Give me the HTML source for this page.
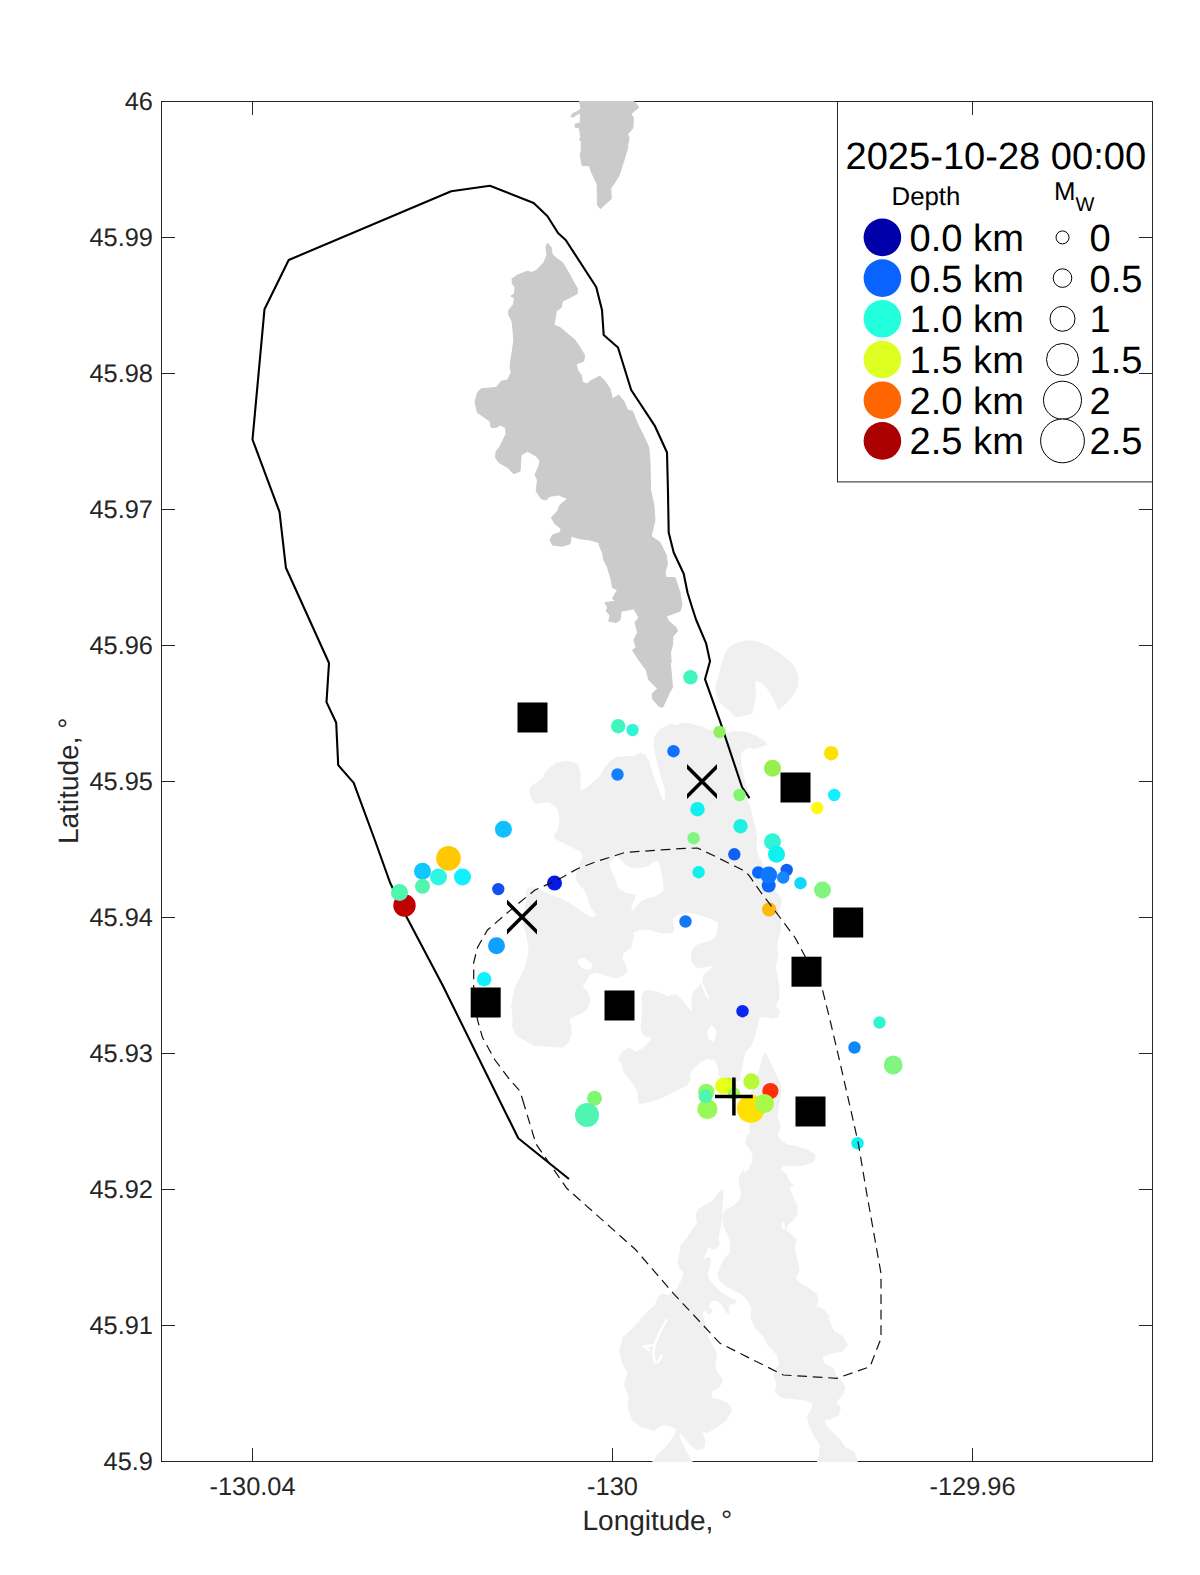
<!DOCTYPE html>
<html lang="en"><head><meta charset="utf-8"><title>Seismicity map</title>
<style>
html,body{margin:0;padding:0;background:#fff;}
body{width:1200px;height:1575px;overflow:hidden;}
svg{display:block;}
text{font-family:"Liberation Sans",Arial,Helvetica,sans-serif;text-rendering:geometricPrecision;}
.tk{font-size:25.4px;fill:#262626;}
.lb{font-size:28px;fill:#262626;}
.lg{font-size:38.1px;fill:#000;}
.sm{font-size:25.8px;fill:#000;}
</style></head><body>
<svg width="1200" height="1575" viewBox="0 0 1200 1575">
<rect x="0" y="0" width="1200" height="1575" fill="#fff"/>
<defs><clipPath id="ax"><rect x="161.0" y="101.0" width="992.0" height="1361.0"/></clipPath></defs>

<rect x="837.5" y="101.5" width="315.0" height="380.4" fill="#fff" stroke="#262626" stroke-width="1"/>
<text class="lg" x="845.5" y="168.7">2025-10-28 00:00</text>
<text class="sm" x="891.5" y="204.6">Depth</text>
<text class="sm" x="1054" y="199.8">M<tspan font-size="20" dy="11.5">W</tspan></text>
<circle cx="882.4" cy="237.4" r="18.8" fill="#0000aa"/>
<text class="lg" x="909.6" y="250.8">0.0 km</text>
<circle cx="1062.5" cy="237.4" r="6.5" fill="#fff" stroke="#000" stroke-width="1"/>
<text class="lg" x="1089.5" y="250.8">0</text>
<circle cx="882.4" cy="278.1" r="18.8" fill="#0964ff"/>
<text class="lg" x="909.6" y="291.5">0.5 km</text>
<circle cx="1062.5" cy="278.1" r="9.3" fill="#fff" stroke="#000" stroke-width="1"/>
<text class="lg" x="1089.5" y="291.5">0.5</text>
<circle cx="882.4" cy="318.8" r="18.8" fill="#22ffdd"/>
<text class="lg" x="909.6" y="332.2">1.0 km</text>
<circle cx="1062.5" cy="318.8" r="12.5" fill="#fff" stroke="#000" stroke-width="1"/>
<text class="lg" x="1089.5" y="332.2">1</text>
<circle cx="882.4" cy="359.5" r="18.8" fill="#ddff22"/>
<text class="lg" x="909.6" y="372.9">1.5 km</text>
<circle cx="1062.5" cy="359.5" r="16" fill="#fff" stroke="#000" stroke-width="1"/>
<text class="lg" x="1089.5" y="372.9">1.5</text>
<circle cx="882.4" cy="400.2" r="18.8" fill="#ff6500"/>
<text class="lg" x="909.6" y="413.6">2.0 km</text>
<circle cx="1062.5" cy="400.2" r="19" fill="#fff" stroke="#000" stroke-width="1"/>
<text class="lg" x="1089.5" y="413.6">2</text>
<circle cx="882.4" cy="440.9" r="18.8" fill="#aa0000"/>
<text class="lg" x="909.6" y="454.3">2.5 km</text>
<circle cx="1062.5" cy="440.9" r="21.9" fill="#fff" stroke="#000" stroke-width="1"/>
<text class="lg" x="1089.5" y="454.3">2.5</text>
<text class="tk" text-anchor="end" x="153.0" y="110.3">46</text>
<text class="tk" text-anchor="end" x="153.0" y="246.3">45.99</text>
<text class="tk" text-anchor="end" x="153.0" y="382.3">45.98</text>
<text class="tk" text-anchor="end" x="153.0" y="518.3">45.97</text>
<text class="tk" text-anchor="end" x="153.0" y="654.3">45.96</text>
<text class="tk" text-anchor="end" x="153.0" y="790.3">45.95</text>
<text class="tk" text-anchor="end" x="153.0" y="926.3">45.94</text>
<text class="tk" text-anchor="end" x="153.0" y="1062.3">45.93</text>
<text class="tk" text-anchor="end" x="153.0" y="1198.3">45.92</text>
<text class="tk" text-anchor="end" x="153.0" y="1334.3">45.91</text>
<text class="tk" text-anchor="end" x="153.0" y="1470.3">45.9</text>
<text class="tk" text-anchor="middle" x="252.5" y="1495">-130.04</text>
<text class="tk" text-anchor="middle" x="612.5" y="1495">-130</text>
<text class="tk" text-anchor="middle" x="972.5" y="1495">-129.96</text>
<path d="M161.5,237.5 h13.5 M1152.5,237.5 h-13.5 M161.5,373.5 h13.5 M1152.5,373.5 h-13.5 M161.5,509.5 h13.5 M1152.5,509.5 h-13.5 M161.5,645.5 h13.5 M1152.5,645.5 h-13.5 M161.5,781.5 h13.5 M1152.5,781.5 h-13.5 M161.5,917.5 h13.5 M1152.5,917.5 h-13.5 M161.5,1053.5 h13.5 M1152.5,1053.5 h-13.5 M161.5,1189.5 h13.5 M1152.5,1189.5 h-13.5 M161.5,1325.5 h13.5 M1152.5,1325.5 h-13.5 M252.5,1461.5 v-13.5 M252.5,101.5 v13.5 M612.5,1461.5 v-13.5 M612.5,101.5 v13.5 M972.5,1461.5 v-13.5 M972.5,101.5 v13.5" stroke="#262626" stroke-width="1" fill="none"/>
<text class="lb" text-anchor="middle" x="657.4" y="1529.7">Longitude, °</text>
<text class="lb" text-anchor="middle" transform="translate(78.2,780.8) rotate(-90)">Latitude, °</text>
<rect x="161.5" y="101.5" width="991.0" height="1360.0" fill="none" stroke="#262626" stroke-width="1"/>
<g clip-path="url(#ax)">
<path d="M733.3,645.0 L740.0,642.5 L748.3,640.8 L756.7,641.7 L766.7,645.8 L776.7,651.7 L786.7,659.2 L794.2,666.7 L797.5,675.0 L798.0,685.0 L795.0,691.7 L790.0,698.3 L783.3,705.0 L778.3,709.2 L775.8,703.3 L772.5,695.8 L767.5,688.3 L761.7,682.5 L756.7,680.0 L754.2,682.5 L755.3,690.0 L755.0,698.3 L753.3,706.7 L751.7,713.3 L745.0,715.0 L738.3,716.7 L734.2,715.8 L730.8,710.8 L725.0,706.7 L720.0,701.7 L716.7,695.0 L715.8,686.7 L718.3,678.3 L720.8,670.0 L722.5,661.7 L725.8,653.3 L729.2,648.3 Z" fill="#f0f0f0" stroke="#f0f0f0" stroke-width="1.2" stroke-linejoin="round"/>
<path d="M530.0,790.0 L531.7,786.7 L536.7,783.3 L543.3,778.3 L545.8,772.5 L550.8,767.5 L556.7,763.3 L565.0,761.7 L573.3,762.5 L578.3,765.8 L580.0,773.3 L580.0,783.3 L580.0,790.8 L585.0,789.2 L591.7,784.2 L600.0,776.7 L605.0,768.3 L610.0,761.7 L616.7,757.5 L626.7,756.7 L634.2,756.7 L640.0,753.3 L645.0,755.0 L648.3,761.7 L651.7,771.7 L655.0,781.7 L658.3,790.0 L661.7,798.3 L665.0,803.3 L665.8,795.0 L665.0,786.7 L661.7,778.3 L659.2,768.3 L656.7,758.3 L655.0,750.0 L654.2,745.0 L655.0,736.7 L660.0,730.0 L670.0,724.2 L676.7,725.8 L683.3,723.3 L691.7,724.2 L700.0,726.7 L708.3,730.0 L715.0,731.7 L725.0,733.3 L736.7,731.7 L746.7,732.5 L755.0,735.8 L765.0,741.7 L766.7,744.2 L760.0,746.7 L753.3,748.3 L748.3,747.5 L743.3,750.0 L740.0,755.0 L740.8,763.3 L742.5,773.3 L745.0,783.3 L748.3,793.3 L746.7,800.0 L750.0,808.3 L752.5,818.3 L755.0,828.3 L756.7,838.3 L755.8,848.3 L758.3,856.7 L761.7,863.3 L773.3,890.0 L778.3,895.0 L781.7,900.0 L780.0,906.7 L778.3,913.3 L780.0,920.0 L780.8,928.3 L778.3,936.7 L776.7,945.0 L777.5,953.3 L776.7,960.0 L775.0,966.7 L776.7,975.0 L778.3,983.3 L779.2,991.7 L778.3,1000.0 L777.5,1000.0 L775.0,1006.7 L779.2,1010.8 L778.3,1016.7 L773.3,1018.3 L766.7,1016.7 L760.0,1016.7 L757.5,1023.3 L755.8,1031.7 L753.3,1040.0 L750.0,1046.7 L745.0,1051.7 L743.3,1058.3 L741.7,1066.7 L740.0,1073.3 L740.0,1080.0 L725.0,1085.0 L719.2,1075.0 L718.3,1066.7 L715.0,1060.0 L708.3,1058.3 L700.0,1061.7 L693.3,1068.3 L689.2,1075.0 L690.0,1080.0 L686.7,1085.0 L678.3,1089.2 L670.0,1093.3 L660.0,1098.3 L650.0,1101.7 L640.0,1103.3 L636.7,1100.8 L565.0,1046.7 L555.0,1046.7 L543.3,1045.8 L533.3,1045.0 L525.0,1040.0 L516.7,1035.0 L512.5,1026.7 L513.3,1016.7 L511.7,1006.7 L513.3,996.7 L515.8,986.7 L520.0,978.3 L525.0,968.3 L527.5,960.0 L529.2,950.0 L527.5,938.3 L525.0,928.3 L522.5,918.3 L525.0,910.0 L526.7,900.0 L526.7,890.0 L531.7,886.7 L575.8,871.7 L578.3,866.7 L581.7,860.0 L583.3,855.0 L580.0,850.8 L575.0,848.3 L566.7,844.2 L558.3,840.0 L554.2,837.5 L555.8,834.2 L559.2,828.3 L560.0,820.0 L559.2,811.7 L555.0,805.0 L548.3,801.7 L540.0,802.5 L535.0,803.3 L530.8,796.7 Z" fill="#f0f0f0" stroke="#f0f0f0" stroke-width="1.2" stroke-linejoin="round"/>
<path d="M765.0,1053.3 L762.5,1058.3 L760.8,1066.7 L758.3,1073.3 L756.7,1080.0 L753.3,1088.3 L750.0,1096.7 L750.0,1126.7 L750.8,1133.3 L746.7,1136.7 L745.8,1143.3 L750.0,1148.3 L753.3,1155.0 L752.5,1163.3 L748.3,1170.0 L743.3,1175.0 L744.0,1170.0 L740.0,1176.0 L739.0,1184.0 L742.0,1192.0 L740.0,1200.0 L734.0,1206.0 L726.0,1210.0 L723.0,1216.0 L724.0,1226.0 L728.0,1234.0 L731.0,1244.0 L730.0,1254.0 L725.0,1258.0 L721.0,1266.0 L718.0,1274.0 L720.0,1280.0 L726.0,1286.0 L734.0,1290.0 L742.0,1294.0 L748.0,1300.0 L752.0,1308.0 L751.0,1318.0 L754.0,1310.0 L751.7,1319.3 L756.3,1328.7 L763.3,1335.7 L768.0,1345.0 L777.3,1354.3 L779.7,1363.7 L773.8,1375.3 L777.3,1384.7 L775.0,1391.7 L782.0,1397.5 L793.7,1398.7 L805.3,1399.8 L813.5,1403.3 L811.2,1410.3 L807.7,1417.3 L810.0,1426.7 L814.7,1436.0 L820.5,1445.3 L819.3,1454.7 L817.0,1464.0 L857.8,1464.0 L854.3,1452.3 L845.0,1447.7 L840.3,1440.7 L833.3,1433.7 L826.3,1426.7 L824.0,1419.7 L831.0,1418.5 L838.0,1415.0 L840.3,1408.0 L835.7,1402.2 L842.7,1394.0 L845.0,1387.0 L840.3,1380.0 L835.7,1375.3 L833.3,1368.3 L824.0,1363.7 L821.7,1356.7 L831.0,1353.2 L842.7,1350.8 L847.3,1345.0 L842.7,1336.8 L833.3,1331.0 L829.8,1321.7 L824.0,1314.7 L817.0,1310.0 L830.0,1318.0 L824.0,1310.0 L816.0,1306.0 L818.0,1300.0 L816.0,1294.0 L808.0,1288.0 L800.0,1284.0 L795.0,1278.0 L799.0,1270.0 L797.0,1260.0 L794.0,1250.0 L796.0,1240.0 L790.0,1234.0 L785.0,1230.0 L788.0,1224.0 L793.0,1220.0 L797.0,1214.0 L797.0,1206.0 L792.0,1196.0 L789.0,1188.0 L793.0,1185.0 L789.0,1182.0 L786.0,1174.0 L780.0,1170.0 L781.7,1171.7 L780.0,1170.0 L783.3,1165.0 L793.3,1165.8 L803.3,1165.0 L813.3,1161.7 L815.0,1155.0 L806.7,1150.0 L796.7,1146.7 L786.7,1145.0 L780.0,1140.0 L776.7,1135.0 L779.2,1130.0 L780.0,1125.0 L776.7,1116.7 L778.3,1106.7 L780.0,1096.7 L780.8,1086.7 L778.3,1080.0 L775.0,1073.3 L771.7,1066.7 L768.3,1058.3 Z" fill="#f0f0f0" stroke="#f0f0f0" stroke-width="1.2" stroke-linejoin="round"/>
<path d="M722.0,1190.0 L717.0,1195.0 L712.0,1202.0 L704.0,1206.0 L698.0,1210.0 L696.0,1216.0 L698.0,1222.0 L694.0,1228.0 L690.0,1234.0 L686.0,1240.0 L681.0,1246.0 L680.0,1254.0 L678.0,1262.0 L680.0,1268.0 L684.0,1272.0 L682.0,1280.0 L678.0,1288.0 L674.0,1292.0 L668.0,1296.0 L662.0,1294.0 L658.0,1298.0 L655.0,1306.0 L650.0,1310.0 L640.0,1320.0 L651.3,1310.0 L642.0,1319.3 L632.7,1328.7 L623.3,1338.0 L619.8,1349.7 L622.2,1361.3 L628.0,1373.0 L624.5,1384.7 L629.2,1396.3 L628.0,1408.0 L632.7,1419.7 L642.0,1426.7 L653.7,1430.2 L663.0,1424.3 L670.0,1425.5 L677.0,1429.0 L674.7,1436.0 L667.7,1445.3 L658.3,1454.7 L651.3,1464.0 L693.3,1464.0 L686.3,1452.3 L680.5,1440.7 L678.2,1431.3 L681.7,1433.7 L691.0,1445.3 L698.0,1450.0 L703.8,1447.7 L705.0,1440.7 L701.5,1431.3 L707.3,1432.5 L716.7,1426.7 L726.0,1419.7 L731.8,1410.3 L727.2,1403.3 L719.0,1399.8 L712.0,1398.7 L710.8,1391.7 L719.0,1387.0 L722.5,1380.0 L716.7,1373.0 L714.3,1363.7 L716.7,1354.3 L712.0,1345.0 L707.3,1335.7 L705.0,1326.3 L702.7,1317.0 L700.3,1310.0 L698.0,1324.0 L701.0,1316.0 L704.0,1310.0 L710.0,1314.0 L712.0,1310.0 L708.0,1307.0 L711.0,1301.0 L717.0,1300.0 L722.0,1304.0 L725.0,1310.0 L729.0,1314.0 L728.0,1308.0 L730.0,1303.0 L734.0,1304.0 L736.0,1301.0 L728.0,1297.0 L720.0,1292.0 L714.0,1286.0 L709.0,1280.0 L707.0,1274.0 L709.6,1266.0 L710.0,1258.0 L707.0,1258.0 L702.4,1262.0 L703.0,1258.0 L706.0,1252.0 L707.6,1246.0 L710.0,1248.0 L715.0,1249.0 L719.0,1245.0 L718.0,1238.0 L719.6,1230.0 L721.6,1220.0 L722.0,1206.0 L723.0,1192.0 Z" fill="#f0f0f0" stroke="#f0f0f0" stroke-width="1.2" stroke-linejoin="round"/>
<path d="M610.0,863.3 L616.7,856.7 L620.0,860.0 L625.0,865.0 L631.7,868.3 L641.7,868.3 L648.3,866.7 L653.3,862.5 L657.5,861.7 L660.0,868.3 L661.7,876.7 L662.5,883.3 L663.3,890.0 L660.0,893.3 L655.0,895.8 L648.3,897.5 L641.7,900.0 L636.7,905.0 L633.3,910.0 L631.7,906.7 L635.0,900.0 L636.7,895.0 L633.3,893.3 L626.7,892.5 L621.7,890.0 L618.3,886.7 L616.7,881.7 L613.3,873.3 L610.8,868.3 Z" fill="#fff" stroke="#fff" stroke-width="1.2" stroke-linejoin="round"/>
<path d="M575.8,871.7 L575.0,878.3 L578.3,885.0 L583.3,890.0 L586.7,896.7 L588.3,903.3 L591.7,910.0 L595.8,915.0 L591.7,916.7 L585.0,913.3 L576.7,906.7 L568.3,901.7 L560.0,897.5 L551.7,894.2 L543.3,890.8 L536.7,888.3 L531.7,886.7 L528.3,883.3 L551.7,870.0 Z" fill="#fff" stroke="#fff" stroke-width="1.2" stroke-linejoin="round"/>
<path d="M633.3,933.3 L641.7,930.0 L651.7,930.8 L661.7,934.2 L670.0,934.2 L675.0,931.7 L674.2,925.0 L673.3,919.2 L678.3,915.0 L688.3,913.3 L700.0,915.8 L710.0,919.2 L717.5,923.3 L716.7,930.0 L715.0,936.7 L710.0,940.0 L703.3,941.7 L696.7,944.2 L692.5,948.3 L690.0,955.0 L690.8,961.7 L694.2,966.7 L700.0,969.2 L706.7,967.5 L711.7,966.7 L708.3,970.0 L703.3,974.2 L700.8,980.0 L698.3,986.7 L693.3,990.0 L690.8,996.7 L690.8,1003.3 L691.7,1010.0 L688.3,1006.7 L683.3,1000.0 L678.3,995.0 L671.7,993.3 L668.3,995.8 L663.3,993.3 L656.7,990.8 L648.3,989.2 L643.3,990.8 L640.8,996.7 L641.7,1006.7 L640.8,1016.7 L640.0,1026.7 L641.7,1035.0 L646.7,1038.3 L650.0,1036.7 L650.8,1039.2 L646.7,1043.3 L641.7,1048.3 L635.8,1050.8 L629.2,1046.7 L623.3,1050.0 L618.3,1056.7 L617.5,1060.0 L621.7,1065.0 L622.5,1071.7 L626.7,1076.7 L631.7,1083.3 L636.7,1091.7 L637.5,1100.0 L640.0,1112.0 L555.0,1112.0 L565.0,1046.7 L570.0,1041.7 L572.5,1033.3 L571.7,1025.0 L570.0,1020.0 L575.0,1016.7 L583.3,1013.3 L588.3,1008.3 L590.8,1000.0 L588.3,991.7 L583.3,986.7 L586.7,981.7 L590.8,975.0 L596.7,973.3 L606.7,976.7 L616.7,979.2 L625.0,975.0 L627.5,971.7 L626.7,965.0 L623.3,958.3 L624.2,953.3 L631.7,948.3 L633.3,941.7 L635.0,935.0 Z" fill="#fff" stroke="#fff" stroke-width="1.2" stroke-linejoin="round"/>
<path d="M578.3,960.0 L583.3,958.3 L588.3,961.7 L591.7,964.2 L590.8,968.3 L586.7,969.2 L582.5,967.5 L579.2,964.2 Z" fill="#fff" stroke="#fff" stroke-width="1.2" stroke-linejoin="round"/>
<path d="M710.8,1025.8 L715.0,1029.2 L715.8,1035.0 L713.3,1041.7 L709.2,1038.3 L707.5,1032.5 Z" fill="#fff" stroke="#fff" stroke-width="1.2" stroke-linejoin="round"/>
<path d="M702.0,978.3 L700.8,981.7 L703.3,987.5 L708.3,998.0" fill="none" stroke="#fff" stroke-width="2.0" stroke-linecap="round" stroke-linejoin="round"/>
<path d="M666.5,1319.8 L659.5,1333.3 L654.8,1343.8 L653.2,1353.2 L654.8,1362.5 L658.3,1361.8 L661.8,1355.5" fill="none" stroke="#fff" stroke-width="2.4" stroke-linecap="round" stroke-linejoin="round"/>
<path d="M654.8,1345.0 L643.2,1346.2 L649.0,1350.1" fill="none" stroke="#fff" stroke-width="2.4" stroke-linecap="round" stroke-linejoin="round"/>
<path d="M783.0,1224.0 L783.6,1228.0" fill="none" stroke="#fff" stroke-width="3" stroke-linecap="round" stroke-linejoin="round"/>
<path d="M578.8,99.6 L580.4,105.0 L580.8,108.8 L577.9,111.2 L572.5,113.8 L570.8,116.7 L573.3,117.1 L576.7,114.6 L580.4,112.9 L580.4,119.2 L580.0,123.3 L575.4,123.8 L575.0,127.1 L579.2,127.9 L580.0,131.7 L580.8,138.3 L579.2,139.2 L581.2,141.7 L581.2,151.7 L580.4,153.3 L580.8,158.3 L582.1,165.4 L589.6,165.8 L590.8,170.8 L597.1,184.2 L597.5,205.0 L600.4,208.8 L611.2,198.8 L610.8,188.3 L618.8,176.2 L623.3,162.5 L627.5,148.3 L627.9,144.2 L629.2,137.9 L627.5,134.2 L632.9,128.3 L633.3,117.5 L630.8,113.8 L638.8,107.5 L637.1,104.6 L631.7,99.6 Z" fill="#cbcbcb" stroke="#cbcbcb" stroke-width="1" stroke-linejoin="round"/>
<path d="M547.5,243.0 L551.2,247.5 L552.0,253.8 L556.2,258.0 L562.5,262.5 L570.0,275.0 L573.8,282.5 L577.5,288.8 L577.0,293.8 L570.0,297.5 L562.5,301.2 L561.2,307.5 L556.2,311.2 L555.5,317.5 L553.8,325.0 L560.0,327.5 L567.5,333.8 L575.0,340.0 L580.0,347.5 L584.5,355.0 L583.8,361.2 L576.2,363.8 L577.5,370.0 L581.2,375.0 L582.5,382.5 L587.5,383.8 L590.0,381.2 L600.0,376.2 L605.0,381.2 L610.0,388.8 L612.5,398.8 L618.8,395.0 L623.8,401.2 L627.5,410.0 L632.5,411.2 L637.5,423.8 L643.8,436.2 L648.8,447.5 L650.0,462.5 L650.5,490.0 L653.8,505.0 L655.0,520.0 L651.2,536.2 L660.0,542.5 L666.2,555.0 L667.5,563.8 L665.0,572.5 L666.2,577.5 L675.0,577.5 L680.0,592.5 L682.0,605.0 L680.0,611.2 L666.2,616.2 L668.8,621.2 L676.2,627.5 L677.5,631.2 L673.0,636.2 L672.5,645.0 L670.5,652.5 L671.2,662.5 L670.0,660.0 L671.2,672.5 L672.5,687.5 L668.8,693.8 L666.2,700.0 L662.5,707.5 L658.8,706.2 L652.5,698.8 L652.0,693.8 L657.5,688.8 L648.8,680.0 L646.2,670.0 L638.8,660.0 L632.5,650.0 L636.2,647.5 L633.8,640.0 L637.5,632.5 L635.0,622.5 L638.8,617.5 L633.8,608.8 L621.2,611.2 L620.0,620.0 L616.2,622.5 L608.8,621.2 L610.0,615.0 L606.2,611.2 L607.5,607.5 L605.0,602.5 L616.2,601.2 L612.5,598.8 L615.0,593.8 L617.5,590.0 L612.5,587.5 L611.2,580.0 L607.5,567.5 L603.8,560.0 L602.5,552.5 L600.0,547.5 L598.8,542.5 L590.0,540.0 L580.0,538.8 L571.2,536.2 L570.0,543.8 L562.5,546.2 L552.5,545.0 L550.0,540.0 L552.5,535.0 L560.0,532.5 L561.2,528.8 L555.0,523.8 L551.2,517.5 L557.5,511.2 L560.0,505.0 L567.5,498.8 L558.8,495.0 L550.0,496.2 L546.2,500.0 L541.2,498.8 L536.2,491.2 L537.5,480.0 L535.0,475.0 L538.8,466.2 L540.0,461.2 L536.2,456.2 L527.5,451.2 L521.2,455.0 L520.0,471.2 L513.8,473.8 L507.5,467.5 L498.8,462.5 L495.5,457.5 L496.2,451.2 L500.0,446.2 L506.2,433.8 L505.5,427.5 L500.0,425.0 L496.2,427.5 L491.2,427.5 L490.0,421.2 L477.5,412.5 L475.0,402.5 L477.5,392.5 L481.2,388.8 L496.2,387.5 L501.2,381.2 L507.5,380.0 L511.2,372.5 L510.0,366.2 L510.8,360.0 L512.5,350.0 L513.8,340.0 L513.0,330.0 L512.0,321.2 L508.8,315.0 L508.8,310.0 L513.2,305.0 L514.5,298.0 L510.8,296.2 L514.5,293.8 L515.0,287.5 L512.5,283.8 L512.0,278.8 L517.5,275.0 L527.5,271.2 L531.2,272.5 L536.2,270.5 L543.8,262.5 L547.0,255.0 L545.8,247.5 Z" fill="#cbcbcb" stroke="#cbcbcb" stroke-width="1" stroke-linejoin="round"/>
<path d="M569.0,1179.0 L518.3,1138.3 L442.5,985.0 L406.2,916.2 L390.0,882.5 L374.8,840.0 L353.7,782.9 L338.2,765.1 L336.2,722.7 L326.5,702.1 L329.0,663.0 L285.9,567.7 L279.5,511.9 L252.5,439.5 L264.5,309.2 L288.7,260.0 L451.2,191.2 L490.0,185.7 L533.7,203.0 L547.5,216.2 L558.0,233.0 L565.7,240.0 L596.2,287.0 L602.0,310.0 L603.7,335.0 L618.0,347.5 L631.2,390.0 L655.0,426.2 L667.0,452.5 L668.0,492.5 L668.7,532.5 L673.7,552.5 L683.7,573.7 L687.5,592.5 L692.5,608.7 L696.2,620.0 L706.2,643.7 L710.0,661.2 L705.0,679.2 L720.0,721.2 L742.0,787.0 L749.5,798.2" fill="none" stroke="#000" stroke-width="2.1" stroke-linejoin="round"/>
<circle cx="690.5" cy="677.3" r="7.2" fill="#40f5c0"/>
<circle cx="618.2" cy="726.2" r="7.2" fill="#40f5c0"/>
<circle cx="632.5" cy="730.0" r="6.2" fill="#30f5d8"/>
<circle cx="719.5" cy="732.0" r="6.2" fill="#90f060"/>
<circle cx="673.5" cy="751.2" r="6.2" fill="#1070ff"/>
<circle cx="617.5" cy="774.5" r="6.2" fill="#1080ff"/>
<circle cx="739.5" cy="795.0" r="6.2" fill="#80f570"/>
<circle cx="697.5" cy="809.2" r="7.2" fill="#10f0f0"/>
<circle cx="740.5" cy="826.2" r="7.2" fill="#20f0e0"/>
<circle cx="693.6" cy="838.2" r="6.2" fill="#80f580"/>
<circle cx="734.3" cy="854.3" r="6.2" fill="#1060f8"/>
<circle cx="698.6" cy="872.2" r="6.2" fill="#10f0f0"/>
<circle cx="503.4" cy="829.2" r="8.5" fill="#10c0ff"/>
<circle cx="448.5" cy="858.2" r="12.3" fill="#ffc800"/>
<circle cx="422.5" cy="871.2" r="8.5" fill="#10c8ff"/>
<circle cx="438.5" cy="877.0" r="8.5" fill="#30f5e0"/>
<circle cx="462.5" cy="877.0" r="8.5" fill="#10f0ff"/>
<circle cx="422.5" cy="886.2" r="7.5" fill="#50f5b0"/>
<circle cx="404.5" cy="905.5" r="11.2" fill="#c00000"/>
<circle cx="399.5" cy="892.5" r="8.5" fill="#50f5b0"/>
<circle cx="498.3" cy="889.1" r="6.2" fill="#1050f0"/>
<circle cx="554.5" cy="883.0" r="7.5" fill="#0818e8"/>
<circle cx="496.5" cy="945.7" r="8.5" fill="#10a0ff"/>
<circle cx="484.2" cy="979.2" r="7.2" fill="#10f0ff"/>
<circle cx="685.5" cy="921.5" r="6.2" fill="#1078f8"/>
<circle cx="772.5" cy="768.2" r="8.5" fill="#98f050"/>
<circle cx="831.2" cy="753.2" r="7.2" fill="#ffe000"/>
<circle cx="834.2" cy="795.0" r="6.2" fill="#10f0ff"/>
<circle cx="817.2" cy="808.0" r="6.2" fill="#fff810"/>
<circle cx="772.5" cy="841.7" r="8.5" fill="#30f5d5"/>
<circle cx="776.5" cy="854.2" r="8.5" fill="#10f0f0"/>
<circle cx="758.2" cy="872.5" r="6.2" fill="#0868ff"/>
<circle cx="768.7" cy="885.5" r="7.0" fill="#0868ff"/>
<circle cx="768.7" cy="875.0" r="8.5" fill="#1078ff"/>
<circle cx="786.7" cy="870.0" r="6.2" fill="#1060f8"/>
<circle cx="783.2" cy="877.5" r="6.2" fill="#1888ff"/>
<circle cx="800.5" cy="883.2" r="6.2" fill="#10d8ff"/>
<circle cx="822.5" cy="890.0" r="8.5" fill="#80f580"/>
<circle cx="769.2" cy="909.5" r="7.2" fill="#ffb810"/>
<circle cx="742.5" cy="1011.2" r="6.2" fill="#0828f0"/>
<circle cx="879.5" cy="1022.5" r="6.2" fill="#30f5d0"/>
<circle cx="854.5" cy="1047.5" r="6.2" fill="#1088f8"/>
<circle cx="893.2" cy="1065.0" r="9.4" fill="#80f580"/>
<circle cx="857.5" cy="1143.2" r="6.2" fill="#10f0f0"/>
<circle cx="594.5" cy="1098.2" r="7.5" fill="#80f570"/>
<circle cx="587.0" cy="1115.0" r="12.0" fill="#50f5b0"/>
<circle cx="728.5" cy="1085.5" r="8.0" fill="#c0fa30"/>
<circle cx="723.1" cy="1085.9" r="8.1" fill="#e8ff18"/>
<circle cx="734.0" cy="1093.6" r="6.2" fill="#98f858"/>
<circle cx="751.4" cy="1081.4" r="8.1" fill="#b8fa38"/>
<circle cx="750.9" cy="1108.8" r="14.0" fill="#ffe000"/>
<circle cx="770.4" cy="1091.1" r="8.1" fill="#ff3008"/>
<circle cx="764.4" cy="1103.5" r="9.6" fill="#a8fa48"/>
<circle cx="707.4" cy="1109.1" r="10.1" fill="#98f858"/>
<circle cx="706.3" cy="1091.9" r="8.2" fill="#90f860"/>
<circle cx="705.5" cy="1096.2" r="6.9" fill="#50f5b0"/>
<path d="M522.7,1100.0 L536.0,1144.0 L566.7,1188.3 L635.5,1249.5 L673.3,1293.3 L720.0,1343.3 L783.3,1375.0 L836.7,1378.3 L870.0,1366.7 L881.0,1338.3 L881.0,1273.3 L866.7,1193.3 L858.3,1143.3 L852.5,1117.5 L840.0,1062.5 L830.0,1020.0 L821.7,986.7 L805.0,956.2 L795.0,937.5 L780.0,917.5 L760.0,891.2 L748.7,875.0 L742.5,870.0 L717.5,857.5 L697.5,848.0 L680.0,848.7 L660.0,850.0 L625.0,852.5 L597.5,861.2 L577.5,868.7 L557.5,880.0 L535.0,890.0 L515.0,906.2 L487.5,930.0 L477.5,947.5 L473.7,962.5 L473.7,987.5 L477.5,1020.0 L482.5,1037.5 L495.0,1060.0 L510.0,1080.0 L520.0,1091.2 L522.7,1100.0" fill="none" stroke="#111" stroke-width="1.2" stroke-dasharray="9.7 5.8"/>
<rect x="517.5" y="702.5" width="30" height="30" fill="#000"/>
<rect x="780.5" y="772.5" width="30" height="30" fill="#000"/>
<rect x="833.2" y="907.5" width="30" height="30" fill="#000"/>
<rect x="791.5" y="956.7" width="30" height="30" fill="#000"/>
<rect x="470.7" y="987.5" width="30" height="30" fill="#000"/>
<rect x="604.5" y="990.5" width="30" height="30" fill="#000"/>
<rect x="795.5" y="1096.5" width="30" height="30" fill="#000"/>
<path d="M687.00,764.00 L687.00,769.00 L717.00,799.00 L717.00,794.00 Z M687.00,794.00 L687.00,799.00 L717.00,769.00 L717.00,764.00 Z" fill="#000"/>
<path d="M507.00,899.50 L507.00,904.50 L537.00,934.50 L537.00,929.50 Z M507.00,929.50 L507.00,934.50 L537.00,904.50 L537.00,899.50 Z" fill="#000"/>
<path d="M715.0,1096.5 L752.8,1096.5 M733.9,1077.6 L733.9,1115.4" stroke="#000" stroke-width="3.5" fill="none"/>
</g>
</svg></body></html>
